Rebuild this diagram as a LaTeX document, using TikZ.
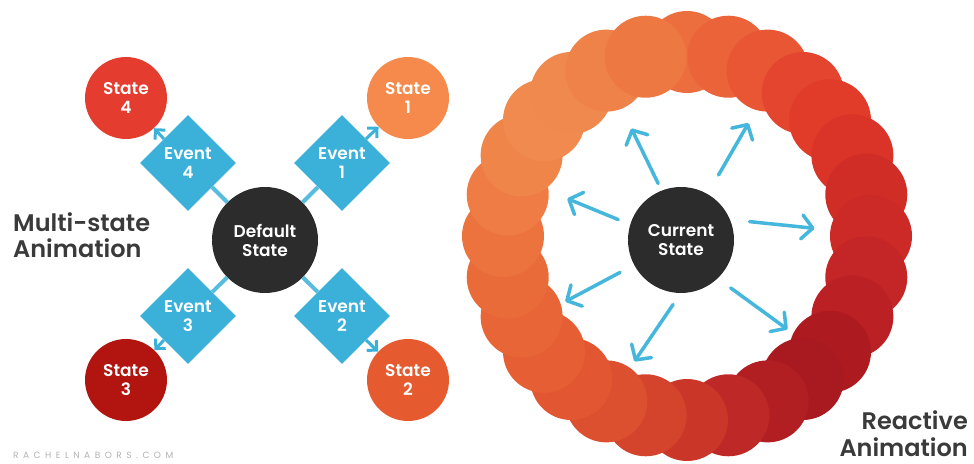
\documentclass[tikz,border=0pt]{standalone}
\usepackage{fontspec}
\setmainfont{Poppins}[BoldFont={Poppins SemiBold}]
\usetikzlibrary{shapes.geometric,arrows.meta}

\definecolor{eventblue}{HTML}{3BB0D8}
\definecolor{arrowblue}{HTML}{45B6DC}
\definecolor{coal}{HTML}{2C2C2C}
\definecolor{labelgray}{HTML}{3A3A3A}
\definecolor{stateone}{HTML}{F58A4C}
\definecolor{statetwo}{HTML}{E65A30}
\definecolor{statethree}{HTML}{B2150F}
\definecolor{statefour}{HTML}{E43D2F}

\tikzset{
  nodefont/.style={font=\fontsize{17}{19}\selectfont\bfseries},
  core/.style={circle,fill=coal,text=white,minimum size=106pt,inner sep=0pt,align=center,nodefont},
  statenode/.style={circle,minimum size=82pt,inner sep=0pt,text=white,align=center,nodefont},
  event/.style={diamond,fill=eventblue,minimum size=96pt,inner sep=0pt,text=white,align=center,nodefont},
  link/.style={eventblue!85,line width=4pt},
  hop/.style={eventblue,line width=3pt,-{Straight Barb[length=7pt,width=14pt]}},
  react/.style={arrowblue,line width=3.5pt,line cap=round,-{Straight Barb[round,length=11pt,width=24pt]}},
  title/.style={text=labelgray,align=left,inner sep=0pt,font=\fontsize{24}{26}\selectfont\bfseries},
}

\begin{document}
\begin{tikzpicture}[x=1pt,y=1pt]
  \useasboundingbox (0,0) rectangle (974,463);

  % multi-state: default state, four events, four states
  \node[core] (def) at (265,223) {Default\\State};
  \node[event] (e1) at (342,300) {Event\\1};
  \node[event] (e2) at (342,147) {Event\\2};
  \node[event] (e3) at (188,147) {Event\\3};
  \node[event] (e4) at (188,300) {Event\\4};
  \node[statenode,fill=stateone] (s1) at (408,365) {State\\1};
  \node[statenode,fill=statetwo] (s2) at (408,83) {State\\2};
  \node[statenode,fill=statethree] (s3) at (126,83) {State\\3};
  \node[statenode,fill=statefour] (s4) at (126,365) {State\\4};
  \foreach \e in {e1,e2,e3,e4}
    \draw[link] (def) -- (\e);
  \draw[hop] (e1.north east) -- (s1);
  \draw[hop] (e2.south east) -- (s2);
  \draw[hop] (e3.south west) -- (s3);
  \draw[hop] (e4.north west) -- (s4);

  % reactive: ring of circles round the current state
  \coordinate (ring) at (687,227);
  \foreach \a/\tone in {90/EC6E3E,77/EA6339,64/E85634,51/E4452E,39/E13B2A,26/DA3428,
      13/D02D27,0/CB2A27,-13/C42526,-26/BA2024,-39/AD1B21,-51/A81A20,-64/B21F23,
      -77/BE2826,-90/CA3729,-103/D4432C,-116/DC4F2F,-129/E25731,-141/E65E34,
      -154/E86537,-167/EA6B3A,180/EC733E,167/EE7C44,154/F08549,141/F08A4E,
      129/F0894D,116/EF8248,103/EE7842}{
    \definecolor{ringtone}{HTML}{\tone}
    \fill[ringtone] (ring) ++(\a:184) circle (41);
  }
  \node[core] (cur) at (681,223) {Current\\State};
  \foreach \ta/\tr/\ha/\hr in {112/61/114/122,60/75/60/135,162/66/160/121,15/71/5/134,
      208/69/208/131,263/65/249/130,-44/69/-40/139}
    \draw[react] ([shift={(\ta:\tr)}]cur.center) -- ([shift={(\ha:\hr)}]cur.center);

  % captions
  \node[title,anchor=base west] (multi) at (13,205) {Multi-state\\Animation};
  \node[title,anchor=base east,align=right] (reactive) at (968,7) {Reactive\\Animation};
  \node[anchor=base west,inner sep=0pt,text=black!30,font=\fontsize{9}{9}\selectfont\addfontfeatures{LetterSpace=50}] (credit) at (13,5) {RACHELNABORS.COM};
\end{tikzpicture}
\end{document}
